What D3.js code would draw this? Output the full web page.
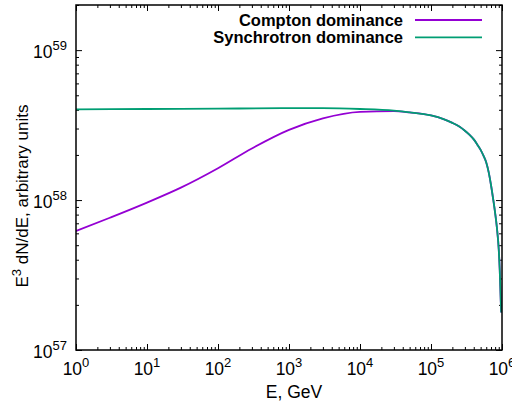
<!DOCTYPE html>
<html>
<head>
<meta charset="utf-8">
<script src="https://cdn.jsdelivr.net/npm/d3@7"></script>
<style>
body { margin:0; background:#fff; }
text { font-family:"Liberation Sans", Arial, sans-serif; fill:#000; }
</style>
</head>
<body>
<svg id="chart" width="512" height="405"></svg>
<script>
// values (E in GeV, E^3 dN/dE in arbitrary units)
var energyCompton = [1, 3, 10, 30, 100, 300, 1000, 3000, 1e4, 3e4, 5e4];
var fluxCompton   = [6.21e57, 7.62e57, 9.62e57, 1.21e58, 1.63e58, 2.21e58, 2.94e58, 3.51e58, 3.88e58, 3.92e58, 3.84e58];
var energySynch   = [1, 10, 100, 1000, 3000, 1e4, 3e4, 5e4];
var fluxSynch     = [4.03e58, 4.05e58, 4.07e58, 4.10e58, 4.10e58, 4.05e58, 3.95e58, 3.85e58];
// common high-energy cutoff shared by both cases
var energyTail = [1e5, 1.5e5, 2e5, 2.5e5, 3e5, 3.5e5, 4e5, 4.5e5, 5e5, 5.5e5, 6e5, 6.5e5, 7e5, 7.5e5, 8e5,
                  8.5e5, 9e5, 9.3e5, 9.6e5, 9.75e5];
var fluxTail   = [3.67e58, 3.47e58, 3.27e58, 3.09e58, 2.90e58, 2.72e58, 2.54e58, 2.34e58, 2.16e58, 1.97e58,
                  1.78e58, 1.53e58, 1.26e58, 1.02e58, 8.22e57, 6.46e57, 4.68e57, 3.39e57, 2.14e57, 1.78e57];

var xMajor = [1, 10, 100, 1e3, 1e4, 1e5, 1e6];
var xExp   = ["0", "1", "2", "3", "4", "5", "6"];
var yMajor = [1e57, 1e58, 1e59];
var yExp   = ["57", "58", "59"];
var seriesNames  = ["Compton dominance", "Synchrotron dominance"];
var seriesColors = ["#9400d3", "#009e73"];

var pLeft = 76, pRight = 502, pTop = 5, pBottom = 350;
var svg = d3.select('#chart');

var x = d3.scaleLog().domain([1, 1e6]).range([pLeft, pRight]);
var y = d3.scaleLog().domain([1e57, 2e59]).range([pBottom, pTop]);

// minor tick positions 2..9 in each decade
var xMinor = [];
xMajor.slice(0, -1).forEach(function(d){ for (var k = 2; k <= 9; k++) xMinor.push(d*k); });
var yMinor = [];
yMajor.forEach(function(d){ for (var k = 2; k <= 9; k++) if (d*k <= 2e59) yMinor.push(d*k); });

function drawTicks(axis, tx, ty, values, size) {
  var g = svg.append('g').attr('transform', 'translate(' + tx + ',' + ty + ')')
    .call(axis.tickValues(values).tickSize(size).tickFormat(''));
  g.select('.domain').remove();
  g.selectAll('line').attr('stroke', '#000').attr('stroke-width', 1);
}
drawTicks(d3.axisBottom(x), 0, pBottom, xMajor, -6);
drawTicks(d3.axisBottom(x), 0, pBottom, xMinor, -3);
drawTicks(d3.axisTop(x), 0, pTop, xMajor, -6);
drawTicks(d3.axisTop(x), 0, pTop, xMinor, -3);
drawTicks(d3.axisLeft(y), pLeft, 0, yMajor, -6);
drawTicks(d3.axisLeft(y), pLeft, 0, yMinor, -3);
drawTicks(d3.axisRight(y), pRight, 0, yMajor, -6);
drawTicks(d3.axisRight(y), pRight, 0, yMinor, -3);

// tick labels with superscripts
xMajor.forEach(function(d, i){
  var t = svg.append('text').attr('x', x(d)).attr('y', 375)
    .attr('text-anchor', 'middle').style('font-size', '17.5px');
  t.append('tspan').text('10');
  t.append('tspan').attr('dy', -8).style('font-size', '13px').text(xExp[i]);
});
yMajor.forEach(function(d, i){
  var t = svg.append('text').attr('x', pLeft - 9).attr('y', y(d) + 8)
    .attr('text-anchor', 'end').style('font-size', '17.5px');
  t.append('tspan').text('10');
  t.append('tspan').attr('dy', -8).style('font-size', '13px').text(yExp[i]);
});

// axis titles
svg.append('text').attr('x', 294).attr('y', 398).attr('text-anchor', 'middle')
  .style('font-size', '17.5px').text('E, GeV');
var yt = svg.append('text').attr('transform', 'translate(28,196) rotate(-90)')
  .attr('text-anchor', 'middle').style('font-size', '17px');
yt.append('tspan').text('E');
yt.append('tspan').attr('dy', -7).style('font-size', '13px').text('3');
yt.append('tspan').attr('dy', 7).text(' dN/dE, arbitrary units');

// curves
svg.append('clipPath').attr('id', 'plotclip').append('rect')
  .attr('x', pLeft).attr('y', pTop).attr('width', pRight - pLeft).attr('height', pBottom - pTop);

var line = d3.line()
  .x(function(d){ return x(d[0]); })
  .y(function(d){ return y(d[1]); })
  .curve(d3.curveMonotoneX);

var tail = d3.zip(energyTail, fluxTail);
var series = [
  d3.zip(energyCompton, fluxCompton).concat(tail),
  d3.zip(energySynch, fluxSynch).concat(tail)
];
series.forEach(function(s, i){
  svg.append('path').attr('clip-path', 'url(#plotclip)')
    .attr('d', line(s)).attr('fill', 'none')
    .attr('stroke', seriesColors[i]).attr('stroke-width', 1.8);
});

// key
seriesNames.forEach(function(name, i){
  var ly = 20 + i*17.3;
  svg.append('text').attr('x', 403).attr('y', ly + 5.5).attr('text-anchor', 'end')
    .style('font-size', '16.5px').style('font-weight', 'bold').text(name);
  svg.append('line').attr('x1', 415).attr('x2', 482).attr('y1', ly).attr('y2', ly)
    .attr('stroke', seriesColors[i]).attr('stroke-width', 1.8);
});

// border
svg.append('rect').attr('x', pLeft).attr('y', pTop).attr('width', pRight - pLeft).attr('height', pBottom - pTop)
  .attr('fill', 'none').attr('stroke', '#000').attr('stroke-width', 1.5);
</script>
</body>
</html>
